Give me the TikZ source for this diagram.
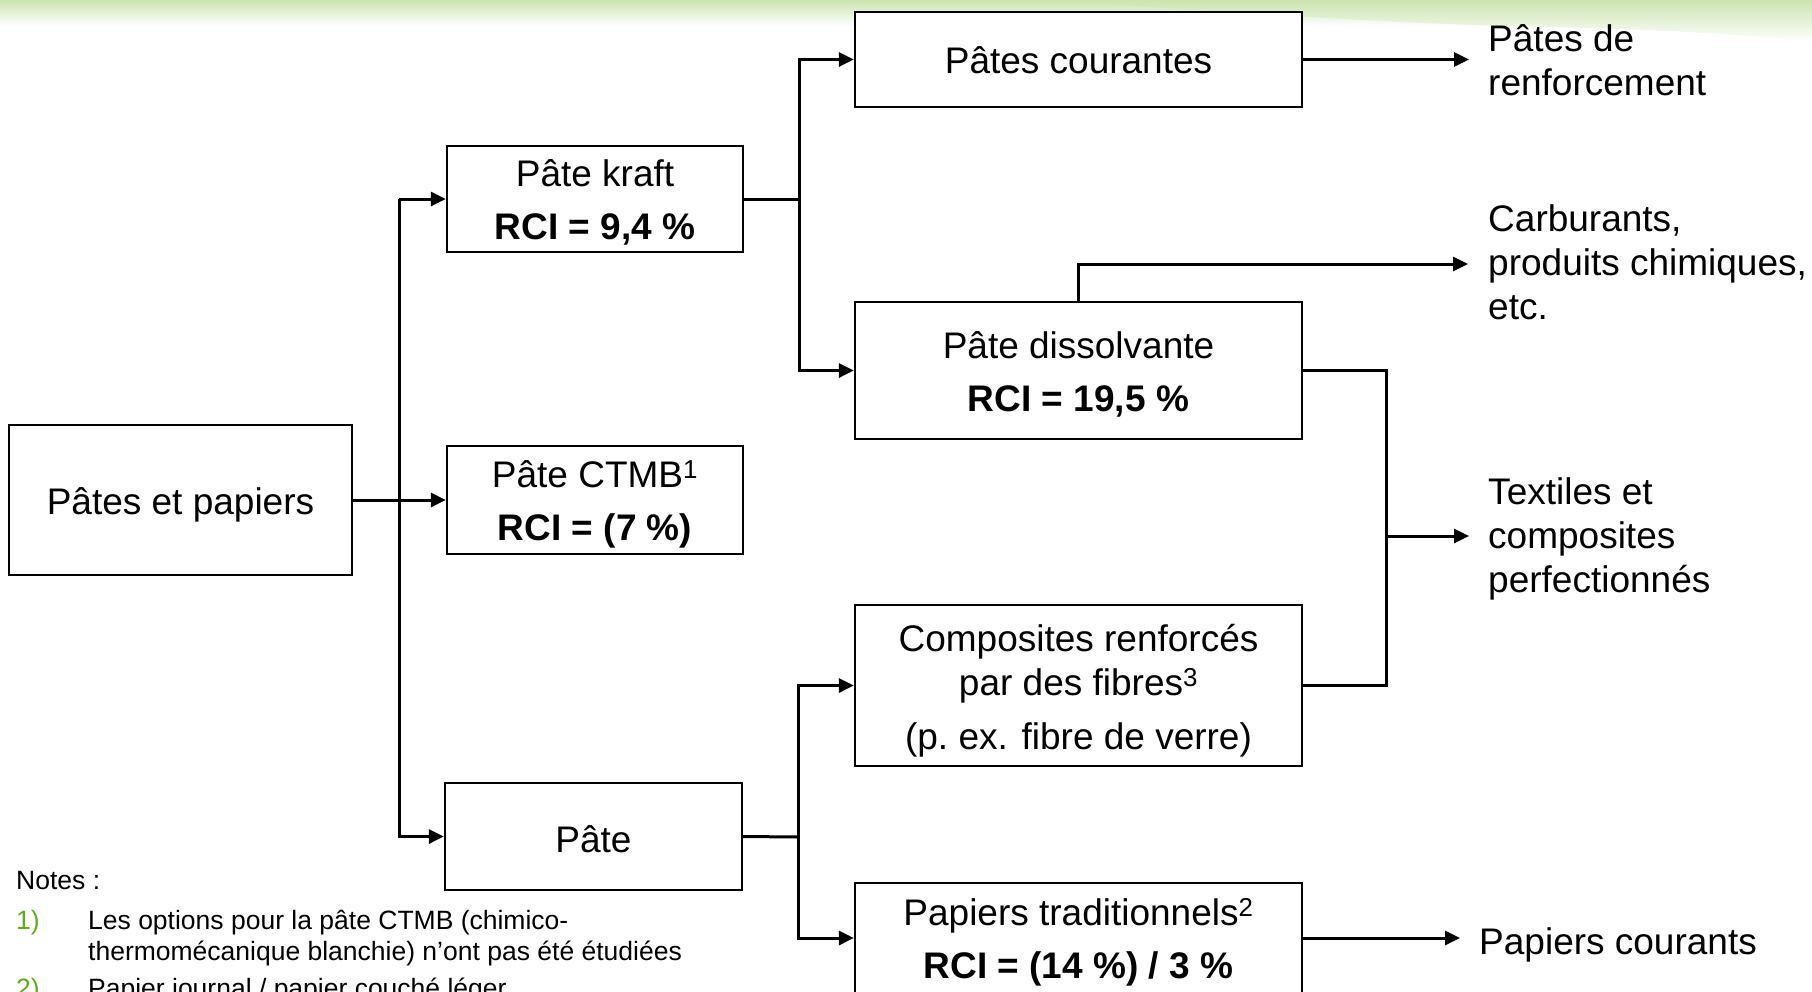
\documentclass[tikz,border=0pt]{standalone}
\usepackage{fontspec}
\setmainfont{Liberation Sans}
\usetikzlibrary{arrows.meta}
\definecolor{bandgreen}{RGB}{204,228,176}
\definecolor{notegreen}{RGB}{100,170,30}
\begin{document}
\begin{tikzpicture}[x=1pt,y=-1pt,
  box/.style={draw=black, line width=2.3pt, fill=white, inner sep=0pt},
  btxt/.style={align=center, inner sep=0pt, font=\fontsize{37}{44}\selectfont},
  lab/.style={align=left, inner sep=0pt, font=\fontsize{37}{44}\selectfont, anchor=base west},
  conn/.style={line width=3pt},
  arr/.style={conn, -{Triangle[length=15pt,width=14pt]}},
  note/.style={inner sep=0pt, font=\fontsize{26.5}{31}\selectfont, anchor=base west, align=left}]
\useasboundingbox (0,0) rectangle (1812,991);
% top band
\shade[top color=bandgreen, bottom color=white] (0,0) rectangle (1812,26);
\shade[top color=bandgreen, bottom color=white] (1050,0) .. controls (1250,14) and (1400,24) .. (1550,27) .. controls (1680,30) and (1760,36) .. (1812,42) -- (1812,0) -- cycle;

% boxes
\node[box, minimum width=343pt, minimum height=150pt] (pp) at (180.5,500) {};
\node[box, minimum width=296pt, minimum height=106pt] (kraft) at (595,199) {};
\node[box, minimum width=296pt, minimum height=108pt] (ctmb) at (595,500) {};
\node[box, minimum width=297pt, minimum height=107pt] (pate) at (593.5,836.5) {};
\node[box, minimum width=447pt, minimum height=95pt] (cour) at (1078.5,59.5) {};
\node[box, minimum width=447pt, minimum height=137pt] (diss) at (1078.5,370.5) {};
\node[box, minimum width=447pt, minimum height=161pt] (comp) at (1078.5,685.5) {};
\node[box, minimum width=447pt, minimum height=110pt] (trad) at (1078.5,938) {};

% box texts
\node[btxt] (ppt) at ([yshift=-4.5pt]pp.center) {Pâtes et papiers};
\node[btxt] (kraftt) at ([yshift=-3.5pt]kraft.center) {Pâte kraft\\[9pt]\textbf{RCI = 9,4 \%}};
\node[btxt] (ctmbt) at ([yshift=-4pt]ctmb.center) {Pâte CTMB\textsuperscript{1}\\[9pt]\textbf{RCI = (7 \%)}};
\node[btxt] (patet) at ([yshift=-2.5pt]pate.center) {Pâte};
\node[btxt] (court) at ([yshift=-1pt]cour.center) {Pâtes courantes};
\node[btxt] (disst) at ([yshift=-4pt]diss.center) {Pâte dissolvante\\[9pt]\textbf{RCI = 19,5 \%}};
\node[btxt] (compt) at ([yshift=-5pt]comp.center) {Composites renforcés\\par des fibres\textsuperscript{3}\\[10pt](p.~ex. fibre de verre)};
\node[btxt] (tradt) at ([yshift=-4.5pt]trad.center) {Papiers traditionnels\textsuperscript{2}\\[9pt]\textbf{RCI = (14 \%) / 3 \%}};

% right labels (anchored on the baseline of the last line)
\node[lab] (renf) at (1488,95) {Pâtes de\\renforcement};
\node[lab] (carb) at (1488,319) {Carburants,\\produits chimiques,\\etc.};
\node[lab] (text) at (1488,592) {Textiles et\\composites\\perfectionnés};
\node[lab] (papc) at (1479,954) {Papiers courants};

% junction coordinates
\coordinate (tk) at (399,500);
\coordinate (kj) at (799,199);
\coordinate (pj) at (798,837);
\coordinate (xj) at (1386,536);
\coordinate (tipr) at (1469,59.5);
\coordinate (tipc) at (1468,264);
\coordinate (tipt) at (1469,536);
\coordinate (tipp) at (1460,938);

% connectors
\draw[arr] (pp.east) -- (ctmb.west);
\draw[arr] (tk |- kraft.west) |- (pate.west);
\draw[arr] (tk |- kraft.west) -- (kraft.west);
\draw[conn] (kraft.east) -- (kj);
\draw[arr] (kj) |- (cour.west);
\draw[arr] (kj) |- (diss.west);
\draw[conn] (pate.east) -- (pj);
\draw[arr] (pj) |- (comp.west);
\draw[arr] (pj) |- (trad.west);
\draw[arr] (cour.east) -- (tipr);
\draw[arr] (diss.north) |- (tipc);
\draw[conn] (diss.east) -| (xj) |- (comp.east);
\draw[arr] (xj) -- (tipt);
\draw[arr] (trad.east) -- (tipp);

% notes
\node[note] (nt) at (16,889) {Notes :};
\node[note, text=notegreen] (n1) at (16,929) {1)};
\node[note] (n1t) at (88,960) {Les options pour la pâte CTMB (chimico-\\thermomécanique blanchie) n’ont pas été étudiées};
\node[note, text=notegreen] (n2) at (16,997) {2)};
\node[note] (n2t) at (88,997) {Papier journal / papier couché léger};
\end{tikzpicture}
\end{document}
